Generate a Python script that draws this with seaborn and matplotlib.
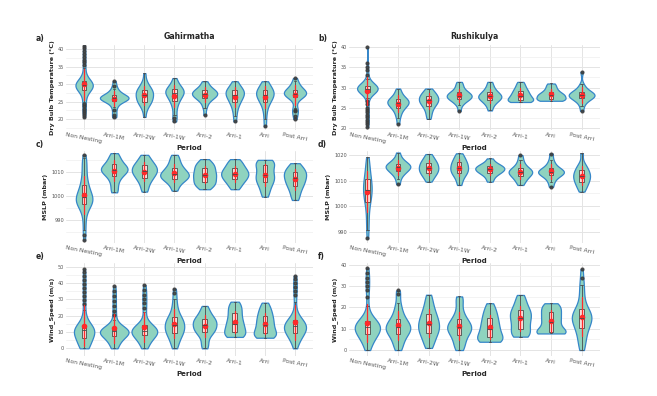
import numpy as np
import pandas as pd
import matplotlib
matplotlib.use("Agg")
import matplotlib.pyplot as plt
from matplotlib.ticker import MultipleLocator
import seaborn as sns

# ── 1. DATA (one list per period) ─────────────────────────────────────────
periods = ["Non Nesting", "Arri-1M", "Arri-2W", "Arri-1W",
           "Arri-2", "Arri-1", "Arri", "Post Arri"]

# a) Gahirmatha – dry bulb temperature (°C)
gah_temp = [
    [20.5, 21.2, 21.8, 22.4, 23.0, 23.6, 24.2, 24.8, 25.4, 26.0, 26.6, 27.2,
     27.8, 28.0, 28.2, 28.4, 28.5, 28.6, 28.7, 28.8, 28.9, 29.0, 29.1, 29.2,
     29.2, 29.3, 29.4, 29.5, 29.5, 29.6, 29.7, 29.8, 29.8, 29.9, 30.0, 30.0,
     30.1, 30.2, 30.3, 30.4, 30.5, 30.6, 30.7, 30.8, 30.9, 31.0, 31.2, 31.5,
     32.2, 33.0, 33.8, 34.6, 35.4, 36.2, 37.0, 37.8, 38.6, 39.4, 40.2, 41.0],
    [20.5, 21.2, 22.5, 23.5, 24.2, 24.8, 25.1, 25.3, 25.5, 25.7, 25.8, 25.9, 26.0,
     26.0, 26.1, 26.2, 26.3, 26.5, 26.7, 26.9, 27.2, 27.6, 28.0, 28.6, 29.5, 30.8],
    [20.6, 22.5, 23.3, 24.0, 24.5, 24.8, 25.0, 25.3, 25.6, 26.0, 26.3, 26.6, 26.8,
     27.0, 27.3, 27.6, 27.9, 28.2, 28.4, 28.7, 29.0, 29.5, 30.2, 31.0, 33.1],
    [19.3, 20.2, 21.2, 22.8, 23.8, 24.6, 25.2, 25.6, 26.0, 26.4, 26.8, 27.1, 27.3,
     27.5, 27.7, 27.9, 28.1, 28.3, 28.5, 28.7, 29.0, 29.4, 30.0, 30.8, 31.7],
    [21.2, 23.2, 24.2, 25.0, 25.5, 25.8, 26.0, 26.3, 26.6, 26.8, 27.0, 27.0,
     27.2, 27.4, 27.6, 27.8, 28.0, 28.2, 28.4, 28.7, 29.0, 29.5, 30.2, 30.8],
    [19.3, 21.0, 22.3, 23.3, 24.0, 24.6, 25.0, 25.4, 25.8, 26.2, 26.5, 26.7,
     26.9, 27.2, 27.5, 27.8, 28.0, 28.2, 28.4, 28.7, 29.0, 29.6, 30.2, 30.8],
    [17.9, 20.0, 21.8, 23.0, 24.0, 24.6, 25.0, 25.4, 25.8, 26.2, 26.5, 26.7,
     26.9, 27.2, 27.5, 27.8, 28.0, 28.2, 28.4, 28.8, 29.2, 29.8, 30.3, 30.8],
    [20.0, 21.0, 22.2, 22.6, 23.1, 25.2, 26.2, 26.4, 26.6, 26.8, 27.0, 27.1, 27.2,
     27.3, 27.4, 27.6, 27.8, 28.0, 28.2, 28.4, 28.7, 29.0, 29.5, 30.2, 30.8, 31.7],
]

# b) Rushikulya – dry bulb temperature (°C)
rus_temp = [
    [20.2, 20.8, 21.4, 22.0, 22.6, 23.2, 23.8, 24.4, 25.0, 25.8, 26.6, 27.4,
     28.0, 28.4, 28.7, 28.9, 29.0, 29.1, 29.2, 29.3, 29.4, 29.5, 29.5, 29.6,
     29.7, 29.8, 29.9, 30.0, 30.1, 30.2, 30.3, 30.4, 30.5, 30.6, 30.7, 30.9,
     29.0, 29.2, 29.4, 29.6, 29.8, 30.0, 30.2, 30.4, 29.1, 29.3, 29.5, 29.7,
     29.9, 30.1, 30.3, 30.5, 31.2, 31.6, 32.2, 33.0, 34.3, 35.0, 36.0, 40.0],
    [21.0, 22.5, 23.3, 24.0, 24.5, 24.9, 25.1, 25.4, 25.7, 25.9, 26.1, 26.2,
     26.3, 26.5, 26.7, 26.9, 27.1, 27.3, 27.5, 27.9, 28.4, 29.0, 29.75],
    [22.2, 23.2, 24.0, 24.7, 25.2, 25.6, 25.9, 26.2, 26.5, 26.7, 26.9, 27.1,
     27.4, 27.7, 27.9, 28.1, 28.4, 28.8, 29.2, 29.75],
    [24.2, 25.6, 26.2, 26.6, 26.9, 27.1, 27.3, 27.5, 27.7, 27.8, 27.9, 28.1,
     28.3, 28.5, 28.7, 28.9, 29.2, 29.6, 30.2, 30.8, 31.4],
    [24.3, 25.4, 26.0, 26.5, 26.8, 27.1, 27.3, 27.5, 27.7, 27.9, 28.1, 28.3,
     28.6, 28.9, 29.3, 29.8, 30.5, 31.4],
    [26.4, 26.5, 26.6, 26.7, 26.9, 27.1, 27.4, 27.7, 27.9, 28.2, 28.5, 28.9,
     29.2, 29.6, 30.1, 30.7, 31.4],
    [26.7, 26.8, 26.9, 27.0, 27.2, 27.5, 27.8, 28.0, 28.1, 28.3, 28.6, 28.9,
     29.3, 29.8, 30.4, 31.0],
    [24.2, 25.5, 26.3, 26.8, 27.1, 27.3, 27.5, 27.7, 27.9, 28.0, 28.1, 28.2,
     28.3, 28.5, 28.7, 28.9, 29.1, 29.5, 30.0, 30.8, 33.9],
]

# c) Gahirmatha – MSLP (mbar)
gah_mslp = [
    [981.6, 983.7, 986.0, 988.5, 990.5, 992.5, 994.0, 995.2, 996.0, 996.5,
     996.6, 997.0, 997.1, 997.5, 997.9, 998.0, 998.3, 998.5, 998.7, 999.0,
     999.1, 999.5, 999.8, 1000.0, 1000.5, 1001.0, 1001.5, 1002.0, 1002.6,
     1003.2, 1003.8, 1004.5, 1005.2, 1006.0, 1007.0, 1008.2, 1009.5, 1011.0,
     1012.5, 1013.5, 1014.5, 1016.0, 1017.3],
    [1001.6, 1002.6, 1004.5, 1006.0, 1007.2, 1008.2, 1008.9, 1009.5, 1010.0,
     1010.4, 1010.8, 1011.0, 1011.3, 1011.7, 1012.1, 1012.5, 1013.0, 1013.5,
     1014.2, 1015.0, 1016.0, 1017.0, 1018.0],
    [1001.9, 1003.5, 1005.0, 1006.2, 1007.1, 1007.6, 1008.3, 1009.0, 1009.6,
     1010.0, 1010.3, 1010.7, 1011.2, 1011.7, 1012.2, 1012.7, 1013.1, 1013.6,
     1014.3, 1015.2, 1016.2, 1017.3],
    [1002.3, 1004.0, 1005.3, 1006.2, 1006.8, 1007.2, 1007.6, 1008.0, 1008.4,
     1008.8, 1009.1, 1009.4, 1009.8, 1010.3, 1010.8, 1011.4, 1012.0, 1012.8,
     1013.7, 1014.8, 1016.0, 1017.3],
    [1002.9, 1003.8, 1004.5, 1005.0, 1005.6, 1006.1, 1006.6, 1007.2, 1007.9,
     1008.5, 1008.9, 1009.3, 1009.9, 1010.6, 1011.2, 1011.8, 1012.4, 1013.0,
     1013.6, 1014.3, 1015.5],
    [1002.9, 1004.0, 1005.0, 1005.8, 1006.5, 1007.0, 1007.5, 1008.0, 1008.5,
     1009.0, 1009.3, 1009.7, 1010.2, 1010.7, 1011.2, 1011.7, 1012.3, 1013.0,
     1013.8, 1014.6, 1015.5],
    [999.8, 1001.5, 1003.0, 1004.3, 1005.4, 1006.1, 1006.8, 1007.5, 1008.2,
     1008.9, 1009.6, 1010.5, 1011.5, 1012.5, 1013.3, 1013.9, 1014.4, 1014.8,
     1015.2],
    [998.4, 1000.0, 1001.5, 1002.8, 1003.8, 1004.7, 1005.4, 1006.1, 1006.8,
     1007.5, 1008.1, 1008.7, 1009.3, 1009.9, 1010.4, 1011.0, 1011.8, 1012.7,
     1013.8],
]

# d) Rushikulya – MSLP (mbar)
rus_mslp = [
    [987.4, 990.7, 993.0, 995.5, 998.0, 1000.0, 1001.5, 1002.5, 1003.3, 1004.0,
     1004.8, 1005.5, 1006.2, 1006.8, 1007.4, 1008.0, 1008.7, 1009.4, 1010.2,
     1011.0, 1012.0, 1013.2, 1014.5, 1016.0, 1017.5, 1019.1],
    [1008.6, 1010.5, 1011.8, 1012.6, 1013.2, 1013.6, 1014.0, 1014.4, 1014.8,
     1015.1, 1015.3, 1015.5, 1015.8, 1016.1, 1016.4, 1016.7, 1017.1, 1017.6,
     1018.3, 1019.2, 1021.0],
    [1009.6, 1010.8, 1011.7, 1012.4, 1012.9, 1013.4, 1013.9, 1014.4, 1014.8,
     1015.2, 1015.7, 1016.2, 1016.7, 1017.2, 1017.7, 1018.4, 1019.3, 1020.4],
    [1008.3, 1010.0, 1011.3, 1012.2, 1012.8, 1013.3, 1013.8, 1014.3, 1014.8,
     1015.3, 1015.8, 1016.3, 1016.9, 1017.4, 1018.0, 1018.8, 1019.7, 1020.7],
    [1009.6, 1011.0, 1012.0, 1012.7, 1013.1, 1013.5, 1013.9, 1014.2, 1014.5,
     1014.8, 1015.1, 1015.4, 1015.7, 1016.1, 1016.6, 1017.3, 1018.7],
    [1008.3, 1009.6, 1010.5, 1011.2, 1011.8, 1012.3, 1012.7, 1013.1, 1013.4,
     1013.7, 1014.0, 1014.4, 1014.9, 1015.6, 1016.6, 1018.0, 1020.0],
    [1007.6, 1009.5, 1010.8, 1011.6, 1012.2, 1012.7, 1013.0, 1013.2, 1013.4,
     1013.6, 1013.9, 1014.3, 1014.8, 1015.5, 1016.5, 1018.0, 1020.6],
    [1005.7, 1007.0, 1008.0, 1008.8, 1009.5, 1010.1, 1010.7, 1011.3, 1011.8,
     1012.3, 1012.8, 1013.4, 1014.1, 1014.8, 1015.6, 1016.7, 1020.7],
]

# e) Gahirmatha – wind speed (m/s)
gah_wind = [
    [0, 0, 0, 0.5, 1.0, 1.5, 2.0, 2.5, 3.0, 3.5, 4.0, 4.5, 5.0, 5.5, 6.0,
     6.5, 7.0, 7.5, 7.8, 8.0, 8.5, 8.8, 9.0, 9.5, 9.8, 10.0, 10.3, 10.6, 10.8,
     10.9, 11.1, 11.2, 11.4, 11.6, 11.8, 12.0, 12.2, 12.4, 12.6, 12.8, 13.0,
     13.2, 13.4, 13.6, 13.8, 15.0, 17.0, 19.0, 21.0, 23.5,
     27.0, 29.5, 32.0, 34.5, 37.0, 39.5, 42.0, 44.5, 47.0, 48.6],
    [0, 0.5, 1.5, 2.5, 3.5, 4.5, 5.5, 6.3, 7.0, 7.3, 7.6, 8.0, 8.5, 9.0, 9.3,
     9.6, 9.8, 9.9, 10.0, 10.2, 10.4, 10.5, 10.6, 10.8, 11.0, 11.1, 11.4, 11.6,
     11.8, 12.2, 12.7, 13.3, 15.0, 17.5, 20.5, 23.0, 26.0, 29.0, 32.0, 35.0, 38.0],
    [0, 1.0, 2.0, 3.0, 4.0, 5.0, 6.0, 7.0, 7.5, 7.9, 8.0, 8.3, 8.7, 9.1, 9.5,
     9.9, 10.0, 10.2, 10.5, 10.8, 11.1, 11.3, 11.5, 11.9, 12.0, 12.4, 12.9,
     13.4, 13.9, 14.4, 15.2, 18.0, 22.5, 25.0, 28.0, 30.5, 33.0, 36.0, 38.8],
    [0, 1.5, 3.0, 4.5, 6.0, 7.0, 8.0, 8.7, 9.3, 9.9, 10.5, 11.1, 11.7, 12.3,
     12.9, 13.5, 14.1, 14.7, 15.3, 15.9, 16.5, 17.1, 17.7, 18.3, 19.0, 20.0,
     21.5, 23.0, 25.0, 27.5, 30.0, 33.7, 36.5],
    [0, 2.0, 4.0, 7.0, 8.5, 9.6, 10.3, 11.0, 11.8, 12.5, 13.2, 13.9, 14.6,
     15.3, 16.0, 16.7, 17.3, 17.9, 18.5, 19.5, 20.8, 22.2, 23.8, 26.0],
    [7.0, 7.3, 7.7, 8.2, 8.8, 9.5, 10.3, 11.2, 12.1, 13.0, 13.9, 14.7, 15.6,
     16.6, 17.7, 18.9, 20.1, 21.4, 22.6, 23.8, 25.0, 26.2, 27.5, 28.6],
    [6.5, 6.8, 7.2, 7.7, 8.3, 9.0, 9.8, 10.6, 11.5, 12.4, 13.4, 14.4, 15.4,
     16.4, 17.4, 18.4, 19.4, 20.6, 21.8, 23.0, 24.4, 26.0, 28.0],
    [0, 1.5, 3.0, 4.5, 5.2, 6.0, 7.2, 7.8, 8.2, 8.6, 9.0, 9.4, 9.8, 10.2,
     10.6, 11.0, 11.4, 11.8, 12.2, 12.6, 12.9, 13.0, 13.3, 13.7, 14.0, 14.3,
     14.6, 14.9, 15.2, 15.5, 16.1, 16.4, 16.8, 17.2, 17.5, 18.2,
     19.0, 21.2, 24.0, 28.5, 33.0, 35.0, 37.5, 40.0, 42.5, 44.5],
]

# f) Rushikulya – wind speed (m/s)
rus_wind = [
    [0, 0.5, 1.5, 2.5, 3.5, 4.3, 5.0, 5.6, 6.0, 6.2, 6.8, 7.0, 7.3, 7.8, 8.0,
     8.3, 8.8, 9.0, 9.3, 9.7, 10.0, 10.1, 10.3, 10.5, 10.7, 10.9, 11.0, 11.3,
     11.5, 11.7, 12.0, 12.1, 12.5, 12.7, 12.9, 13.3, 13.5, 13.8, 14.4,
     15.0, 15.7, 17.5, 20.5, 25.0, 28.0, 30.0, 32.0, 34.0, 36.0, 38.5],
    [0, 1.2, 2.5, 3.8, 5.0, 6.0, 6.9, 7.6, 8.2, 8.7, 9.2, 9.6, 10.0, 10.4,
     10.8, 11.2, 11.7, 12.2, 12.8, 13.4, 14.0, 14.8, 15.8, 17.0, 18.5, 20.2,
     22.0, 26.2, 28.0],
    [1.0, 2.5, 4.0, 5.3, 6.5, 7.5, 8.3, 9.0, 9.7, 10.4, 11.1, 11.8, 12.5,
     13.2, 14.0, 14.8, 15.7, 16.6, 17.6, 18.8, 20.2, 21.8, 23.8, 26.0],
    [0, 1.0, 2.2, 3.5, 4.8, 6.0, 7.0, 7.8, 8.5, 9.1, 9.6, 10.1, 10.5, 10.9,
     11.4, 11.9, 12.5, 13.2, 14.0, 14.9, 16.0, 17.5, 19.5, 22.8, 24.0, 25.2],
    [3.9, 4.0, 4.2, 4.6, 5.2, 5.9, 6.6, 7.4, 8.2, 9.1, 10.0, 10.9, 11.8, 12.8,
     13.8, 14.9, 16.0, 17.2, 18.5, 20.0, 22.0],
    [6.3, 6.6, 7.2, 8.0, 9.0, 10.0, 11.0, 12.0, 13.0, 14.0, 14.9, 15.7, 16.5,
     17.3, 18.0, 18.8, 19.8, 21.0, 22.5, 24.2, 25.9],
    [7.8, 7.8, 7.9, 8.0, 8.2, 8.5, 9.0, 9.8, 10.8, 11.9, 13.0, 13.7, 14.5,
     15.4, 16.3, 17.2, 18.0, 18.9, 19.8, 20.6, 21.4, 22.0],
    [0, 1.5, 3.0, 4.5, 6.0, 7.3, 8.4, 9.4, 10.3, 11.2, 12.0, 12.8, 13.2, 13.6,
     14.3, 14.9, 15.2, 15.5, 16.1, 16.4, 16.8, 17.5, 17.8, 18.2, 19.2, 20.5,
     22.0, 24.0, 26.5, 29.0, 30.6, 34.0, 38.0],
]


def long_form(groups):
    rows = [(p, v) for p, vals in zip(periods, groups) for v in vals]
    return pd.DataFrame(rows, columns=["Period", "value"])


# ── 2. STYLE ──────────────────────────────────────────────────────────────
sns.set_style("white")
plt.rcParams["font.family"] = ["DejaVu Sans"]

VIOLIN_FILL = "#8fd3bf"
VIOLIN_EDGE = "#3586c9"
BOX_FILL = "#f5dcd8"
BOX_EDGE = "#4a4a4a"
MEAN_RED = "#ff2a2a"

# (data, y label, y limits, major tick step, panel tag, title, axes rect)
panels = [
    (gah_temp, "Dry Bulb Temperature (°C)", (16.86, 41.14), 5, "a)", "Gahirmatha",
     [0.1005, 0.6717, 0.376, 0.2146]),
    (rus_temp, "Dry Bulb Temperature (°C)", (19.43, 40.57), 5, "b)", "Rushikulya",
     [0.5312, 0.6717, 0.382, 0.2146]),
    (gah_mslp, "MSLP (mbar)", (980.4, 1018.9), 10, "c)", None,
     [0.1005, 0.3864, 0.376, 0.2323]),
    (rus_mslp, "MSLP (mbar)", (985.6, 1021.6), 10, "d)", None,
     [0.5312, 0.3864, 0.382, 0.2323]),
    (gah_wind, "Wind_Speed (m/s)", (-4.7, 52.3), 10, "e)", None,
     [0.1005, 0.1010, 0.376, 0.2348]),
    (rus_wind, "Wind_Speed (m/s)", (-2.8, 40.9), 10, "f)", None,
     [0.5312, 0.1010, 0.382, 0.2348]),
]

fig = plt.figure(figsize=(6.57, 3.96), dpi=100)

# ── 3. PLOT ───────────────────────────────────────────────────────────────
for groups, ylabel, ylim, step, tag, title, rect in panels:
    ax = fig.add_axes(rect)
    df = long_form(groups)

    # same-area violins, as in the reference (wide spread -> slimmer violin)
    sns.violinplot(data=df, x="Period", y="value", order=periods, ax=ax,
                   color=VIOLIN_FILL, linecolor=VIOLIN_EDGE, linewidth=0.9,
                   saturation=1, inner=None, cut=0, density_norm="area",
                   width=0.95, bw_adjust=0.75)
    sns.boxplot(data=df, x="Period", y="value", order=periods, ax=ax,
                width=0.15, color=BOX_FILL, linecolor=BOX_EDGE, linewidth=0.6,
                saturation=1,
                flierprops=dict(marker="o", markersize=2.0,
                                markerfacecolor="#3c3c3c",
                                markeredgecolor="#3c3c3c", alpha=0.85))
    sns.pointplot(data=df, x="Period", y="value", order=periods, ax=ax,
                  estimator="mean", errorbar="sd", color=MEAN_RED,
                  linestyle="none", markers="o", markersize=2.0,
                  err_kws={"linewidth": 0.9})

    ax.set_xlim(-0.6, 7.6)
    ax.set_ylim(*ylim)
    ax.yaxis.set_major_locator(MultipleLocator(step))
    ax.yaxis.set_minor_locator(MultipleLocator(step / 2))
    ax.grid(which="major", color="#e4e4e4", linewidth=0.7)
    ax.grid(which="minor", axis="y", color="#efefef", linewidth=0.5)
    ax.set_axisbelow(True)
    sns.despine(ax=ax, left=True, bottom=True)
    ax.tick_params(which="both", length=0, pad=1.5)
    ax.tick_params(axis="y", labelsize=3.6, labelcolor="#555555")
    ax.tick_params(axis="x", labelsize=4.3, labelcolor="#555555")
    for lab in ax.get_xticklabels():
        lab.set_rotation(-11)
        lab.set_ha("center")

    ax.set_xlabel("Period", fontsize=5, fontweight="bold", labelpad=1)
    ax.set_ylabel(ylabel, fontsize=4.6, fontweight="bold", labelpad=2)
    if title:
        ax.set_title(title, fontsize=5.6, fontweight="bold", pad=4)

    # panel tag to the upper left of each axes
    fig.text(rect[0] - 0.047, rect[1] + rect[3] + 0.005, tag,
             fontsize=5.5, fontweight="bold", va="bottom")

# ── 4. SAVE ───────────────────────────────────────────────────────────────
fig.savefig("out.png", dpi=100)
